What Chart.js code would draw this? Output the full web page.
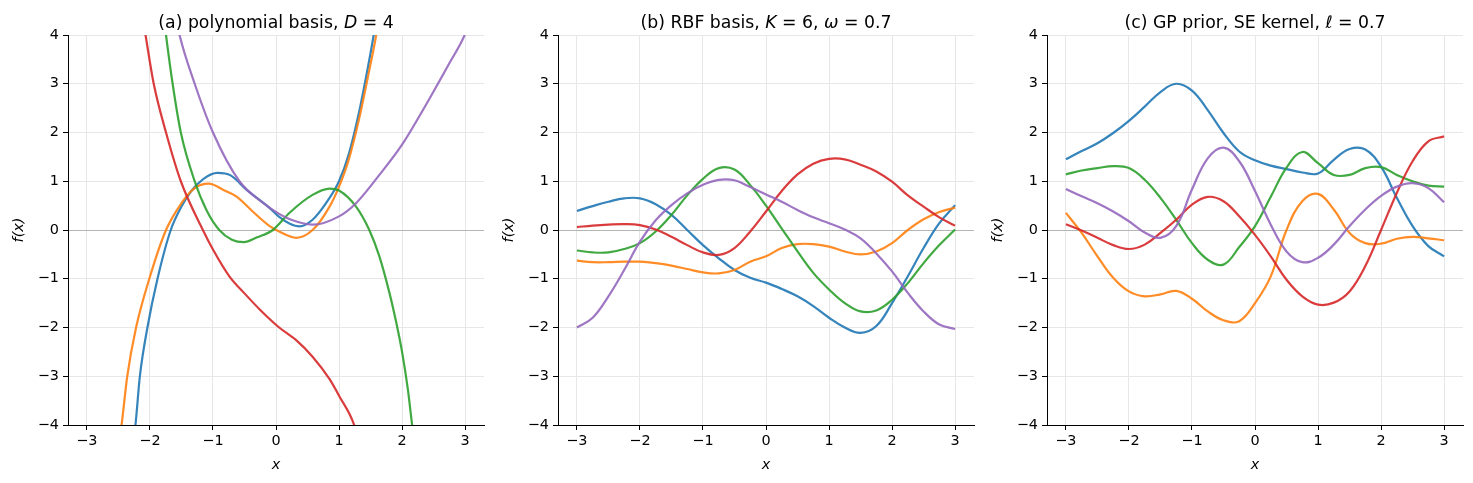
<!DOCTYPE html>
<html>
<head>
<meta charset="utf-8">
<script src="https://cdn.jsdelivr.net/npm/chart.js@4.4.1/dist/chart.umd.min.js"></script>
<style>
html,body{margin:0;padding:0;background:#fff;}
#wrap{position:relative;width:1473px;height:483px;overflow:hidden;background:#fff;}
.panel{position:absolute;top:0;width:490px;height:483px;}
.panel canvas{position:absolute;left:0;top:0;}
.title{position:absolute;top:12px;left:68px;width:416px;text-align:center;font-family:"DejaVu Sans";font-size:17.3px;line-height:20px;color:#000;white-space:nowrap;}
</style>
</head>
<body>
<div id="wrap">
  <div class="panel" style="left:0px"><canvas id="ca" width="490" height="483"></canvas><div class="title">(a) polynomial basis, <i>D</i> = 4</div></div>
  <div class="panel" style="left:490px"><canvas id="cb" width="490" height="483"></canvas><div class="title">(b) RBF basis, <i>K</i> = 6, <i>ω</i> = 0.7</div></div>
  <div class="panel" style="left:979px"><canvas id="cc" width="490" height="483"></canvas><div class="title">(c) GP prior, SE kernel, <i>ℓ</i> = 0.7</div></div>
</div>
<script>
// ---- tick labels ----
const xTicks = [-3, -2, -1, 0, 1, 2, 3];
const yTicks = [-4, -3, -2, -1, 0, 1, 2, 3, 4];

// ---- panel (a): polynomial basis samples (each curve has its own x samples) ----
const aBlueX   = [-2.3, -2.23, -2.16, -2.04, -1.88, -1.67, -1.5, -1.35, -1.15, -0.93, -0.72, -0.47, -0.1, 0.05, 0.22, 0.37, 0.58, 0.85, 1.0, 1.16, 1.32, 1.46, 1.55, 1.62];
const aBlueY   = [-4.6, -4.0, -3.0, -2.0, -1.0, 0.0, 0.48, 0.79, 1.05, 1.17, 1.12, 0.83, 0.45, 0.27, 0.13, 0.075, 0.21, 0.66, 1.0, 1.58, 2.43, 3.35, 4.0, 4.6];
const aOrangeX = [-2.52, -2.45, -2.36, -2.22, -2.01, -1.745, -1.5, -1.3, -1.07, -0.8, -0.63, -0.37, -0.1, 0.05, 0.32, 0.58, 0.85, 1.0, 1.16, 1.32, 1.48, 1.59, 1.66];
const aOrangeY = [-4.6, -4.0, -3.0, -2.0, -1.0, 0.0, 0.55, 0.85, 0.95, 0.8, 0.69, 0.38, 0.08, -0.03, -0.16, 0.0, 0.48, 0.89, 1.47, 2.29, 3.28, 4.0, 4.6];
const aGreenX  = [-1.8, -1.745, -1.64, -1.51, -1.29, -1.1, -0.9, -0.7, -0.51, -0.3, -0.05, 0.22, 0.58, 0.85, 1.0, 1.27, 1.48, 1.64, 1.8, 1.9, 2.0, 2.09, 2.16, 2.22];
const aGreenY  = [4.6, 4.0, 3.0, 2.0, 1.0, 0.4, 0.0, -0.2, -0.25, -0.15, 0.0, 0.36, 0.72, 0.85, 0.81, 0.48, 0.0, -0.54, -1.29, -1.85, -2.5, -3.25, -4.0, -4.6];
const aRedX    = [-2.14, -2.07, -1.94, -1.745, -1.51, -1.16, -1.0, -0.74, -0.5, -0.25, 0.05, 0.32, 0.58, 0.85, 1.0, 1.24, 1.32];
const aRedY    = [4.55, 4.0, 3.0, 2.0, 1.0, 0.0, -0.4, -0.95, -1.3, -1.64, -2.0, -2.26, -2.6, -3.06, -3.4, -4.0, -4.4];
const aPurpleX = [-1.6, -1.53, -1.29, -1.0, -0.58, -0.2, 0.05, 0.22, 0.58, 1.0, 1.27, 1.64, 2.0, 2.38, 2.75, 3.0, 3.1];
const aPurpleY = [4.45, 4.0, 3.0, 2.0, 1.0, 0.55, 0.33, 0.22, 0.11, 0.28, 0.55, 1.13, 1.75, 2.57, 3.42, 4.02, 4.4];

// ---- panels (b) and (c): common x samples ----
const gridX = [-3, -2.75, -2.5, -2.25, -2, -1.75, -1.5, -1.25, -1, -0.75, -0.5, -0.25, 0, 0.25, 0.5, 0.75, 1, 1.25, 1.5, 1.75, 2, 2.25, 2.5, 2.75, 3];

const bBlue   = [0.39, 0.49, 0.58, 0.65, 0.65, 0.53, 0.31, 0.0, -0.31, -0.58, -0.82, -0.98, -1.08, -1.21, -1.36, -1.56, -1.8, -2.0, -2.11, -1.97, -1.5, -0.95, -0.37, 0.14, 0.51];
const bOrange = [-0.63, -0.66, -0.66, -0.65, -0.65, -0.68, -0.73, -0.8, -0.87, -0.89, -0.82, -0.65, -0.54, -0.37, -0.29, -0.29, -0.34, -0.44, -0.5, -0.44, -0.27, 0.0, 0.22, 0.37, 0.46];
const bGreen  = [-0.42, -0.46, -0.46, -0.39, -0.27, -0.03, 0.31, 0.71, 1.05, 1.27, 1.24, 0.92, 0.5, 0.03, -0.44, -0.88, -1.22, -1.5, -1.67, -1.65, -1.43, -1.09, -0.68, -0.31, 0.01];
const bRed    = [0.06, 0.09, 0.11, 0.12, 0.1, 0.01, -0.14, -0.31, -0.46, -0.51, -0.37, -0.03, 0.38, 0.8, 1.14, 1.36, 1.46, 1.45, 1.34, 1.2, 0.99, 0.71, 0.48, 0.26, 0.09];
const bPurple = [-2.0, -1.8, -1.36, -0.82, -0.24, 0.2, 0.51, 0.75, 0.93, 1.03, 1.02, 0.88, 0.73, 0.58, 0.41, 0.26, 0.14, 0.01, -0.17, -0.48, -0.85, -1.29, -1.67, -1.94, -2.03];

const cBlue   = [1.45, 1.62, 1.78, 1.99, 2.24, 2.53, 2.83, 3.0, 2.86, 2.46, 1.99, 1.61, 1.43, 1.32, 1.25, 1.18, 1.16, 1.44, 1.66, 1.65, 1.3, 0.66, 0.08, -0.33, -0.54];
const cOrange = [0.35, -0.06, -0.54, -0.98, -1.26, -1.36, -1.32, -1.25, -1.41, -1.67, -1.85, -1.87, -1.5, -0.95, 0.0, 0.59, 0.74, 0.42, -0.06, -0.27, -0.28, -0.18, -0.14, -0.17, -0.21];
const cGreen  = [1.14, 1.22, 1.27, 1.31, 1.27, 1.03, 0.66, 0.21, -0.27, -0.61, -0.71, -0.35, 0.08, 0.68, 1.28, 1.6, 1.37, 1.13, 1.13, 1.27, 1.29, 1.13, 1.0, 0.91, 0.89];
const cRed    = [0.12, -0.01, -0.16, -0.31, -0.39, -0.3, -0.06, 0.21, 0.52, 0.68, 0.59, 0.28, -0.1, -0.54, -1.02, -1.36, -1.53, -1.49, -1.26, -0.74, 0.0, 0.76, 1.41, 1.82, 1.92];
const cPurple = [0.84, 0.69, 0.55, 0.38, 0.18, -0.05, -0.16, 0.08, 0.83, 1.47, 1.69, 1.41, 0.8, 0.11, -0.44, -0.66, -0.57, -0.3, 0.08, 0.42, 0.7, 0.89, 0.96, 0.86, 0.57];

const colors = ['rgba(31,119,180,0.9)', 'rgba(255,127,14,0.9)', 'rgba(44,160,44,0.9)', 'rgba(214,39,40,0.9)', 'rgba(148,103,189,0.9)'];

function pts(xs, ys) { return xs.map((v, i) => ({x: v, y: ys[i]})); }
function fmt(v) { return v < 0 ? '\u2212' + Math.abs(v) : String(v); }

function makeSets(list, mode) {
  // matplotlib draws later curves on top; Chart.js draws the first dataset on top
  const sets = list.map((d, i) => ({
    data: d, borderColor: colors[i], borderWidth: 2.2, pointRadius: 0,
    tension: 0.4, cubicInterpolationMode: mode, fill: false, clip: 0
  }));
  return sets.reverse();
}

const FONT = 'DejaVu Sans';
const FS = 14.4;
function makeChart(id, datasets) {
  new Chart(document.getElementById(id), {
    type: 'line',
    data: {datasets: datasets},
    options: {
      responsive: false, animation: false, devicePixelRatio: 1,
      layout: {padding: {top: 35, right: 6, left: 0, bottom: 0}},
      plugins: {legend: {display: false}, tooltip: {enabled: false}, title: {display: false}},
      scales: {
        x: {
          type: 'linear', min: -3.3, max: 3.3,
          afterBuildTicks: s => { s.ticks = xTicks.map(v => ({value: v})); },
          afterFit: s => { s.height = 58; },
          ticks: {callback: fmt, color: '#000', font: {family: FONT, size: FS}, padding: 3, maxRotation: 0, autoSkip: false},
          grid: {color: '#e7e7e7', lineWidth: 1, tickLength: 5, tickColor: '#000', tickWidth: 1},
          border: {color: '#000', width: 1},
          title: {display: true, text: 'x', color: '#000', font: {family: FONT, size: FS, style: 'italic'}, padding: {top: 9.4, bottom: 9.4}}
        },
        y: {
          type: 'linear', min: -4, max: 4,
          afterBuildTicks: s => { s.ticks = yTicks.map(v => ({value: v})); },
          afterFit: s => { s.width = 68; },
          ticks: {callback: fmt, color: '#000', font: {family: FONT, size: FS}, padding: 4},
          grid: {color: c => (c.tick && c.tick.value === 0) ? '#b5b5b5' : '#e7e7e7', lineWidth: 1, tickLength: 5, tickColor: '#000', tickWidth: 1},
          border: {color: '#000', width: 1},
          title: {display: true, text: 'f(x)', color: '#000', font: {family: FONT, size: FS, style: 'italic'}, padding: {top: 10.4, bottom: 10.4}}
        }
      }
    }
  });
}

makeChart('ca', makeSets([pts(aBlueX, aBlueY), pts(aOrangeX, aOrangeY), pts(aGreenX, aGreenY), pts(aRedX, aRedY), pts(aPurpleX, aPurpleY)], 'monotone'));
makeChart('cb', makeSets([pts(gridX, bBlue), pts(gridX, bOrange), pts(gridX, bGreen), pts(gridX, bRed), pts(gridX, bPurple)], 'default'));
makeChart('cc', makeSets([pts(gridX, cBlue), pts(gridX, cOrange), pts(gridX, cGreen), pts(gridX, cRed), pts(gridX, cPurple)], 'default'));
</script>
</body>
</html>
